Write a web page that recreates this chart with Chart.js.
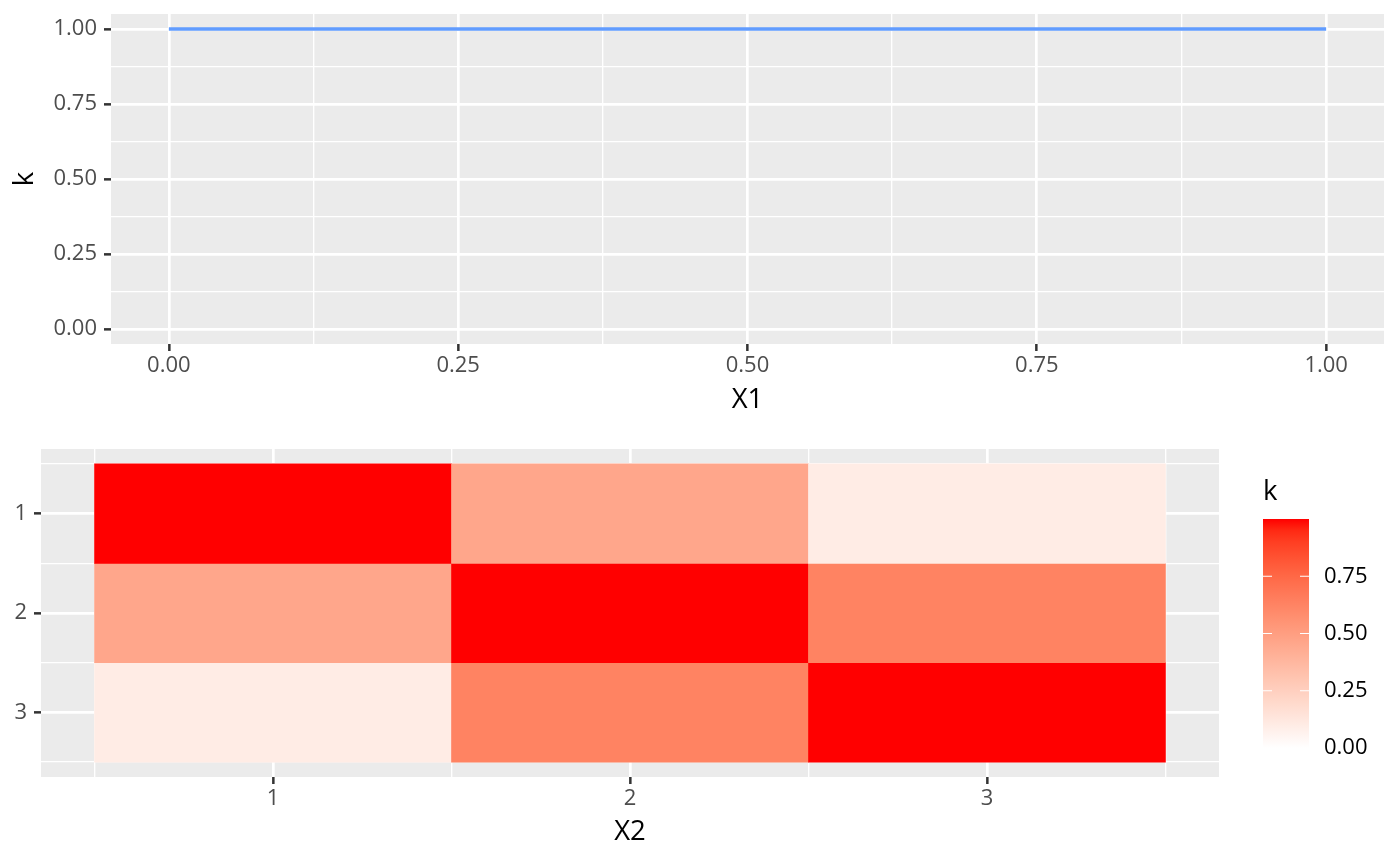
<!DOCTYPE html>
<html>
<head>
<meta charset="utf-8">
<script src="https://cdn.jsdelivr.net/npm/chart.js@4.4.1/dist/chart.umd.min.js"></script>
<style>
  html, body { margin: 0; padding: 0; background: #fff; }
  #wrap { position: relative; width: 1400px; height: 866px; overflow: hidden; }
  canvas { position: absolute; }
</style>
</head>
<body>
<div id="wrap">
  <canvas id="lineChart" width="1400" height="425" style="left:0;top:0"></canvas>
  <canvas id="heatChart" width="1240" height="441" style="left:0;top:425px"></canvas>
  <canvas id="keyChart" width="160" height="441" style="left:1240px;top:425px"></canvas>
</div>
<script>
// top panel: k along X1
const x1Values = [0, 0.25, 0.5, 0.75, 1];
const kLine = [1, 1, 1, 1, 1];
const x1Ticks = [0, 0.25, 0.5, 0.75, 1];
const x1Minor = [0.125, 0.375, 0.625, 0.875];
const kTicks = [0, 0.25, 0.5, 0.75, 1];
const kMinor = [0.125, 0.375, 0.625, 0.875];

// bottom panel: k between levels of X2
const x2Cats = [1, 2, 3];
const rowCats = [1, 2, 3];
const kRow1 = [1, 0.46, 0.1];
const kRow2 = [0.46, 1, 0.63];
const kRow3 = [0.1, 0.63, 1];
const tileMinor = [0.5, 1.5, 2.5, 3.5];
const keyTicks = [0, 0.25, 0.5, 0.75];

Chart.defaults.font.family = "'Open Sans', 'Noto Sans', sans-serif";
Chart.defaults.animation = false;

// white -> red ramp in CIELAB, like scale_fill_gradient
function toLin(c) { c /= 255; return c <= 0.04045 ? c / 12.92 : Math.pow((c + 0.055) / 1.055, 2.4); }
function fromLin(c) {
  const v = c <= 0.0031308 ? 12.92 * c : 1.055 * Math.pow(c, 1 / 2.4) - 0.055;
  return Math.round(Math.max(0, Math.min(1, v)) * 255);
}
function rgbToLab(rgb) {
  const [r, g, b] = rgb.map(toLin);
  const X = (0.4124 * r + 0.3576 * g + 0.1805 * b) / 0.95047;
  const Y = 0.2126 * r + 0.7152 * g + 0.0722 * b;
  const Z = (0.0193 * r + 0.1192 * g + 0.9505 * b) / 1.08883;
  const f = t => t > 0.008856 ? Math.cbrt(t) : 7.787 * t + 16 / 116;
  return [116 * f(Y) - 16, 500 * (f(X) - f(Y)), 200 * (f(Y) - f(Z))];
}
function labToRgb(lab) {
  const fy = (lab[0] + 16) / 116, fx = fy + lab[1] / 500, fz = fy - lab[2] / 200;
  const inv = t => t * t * t > 0.008856 ? t * t * t : (t - 16 / 116) / 7.787;
  const X = inv(fx) * 0.95047, Y = inv(fy), Z = inv(fz) * 1.08883;
  const r = 3.2406 * X - 1.5372 * Y - 0.4986 * Z;
  const g = -0.9689 * X + 1.8758 * Y + 0.0415 * Z;
  const b = 0.0557 * X - 0.2040 * Y + 1.0570 * Z;
  return 'rgb(' + fromLin(r) + ',' + fromLin(g) + ',' + fromLin(b) + ')';
}
const labLow = rgbToLab([255, 255, 255]);
const labHigh = rgbToLab([255, 0, 0]);
function fillFor(t) {
  return labToRgb(labLow.map((v, i) => v + (labHigh[i] - v) * t));
}

const panelBg = {
  id: 'panelBg',
  beforeDraw(chart) {
    const { ctx, chartArea: a } = chart;
    ctx.save();
    ctx.fillStyle = '#EBEBEB';
    ctx.fillRect(a.left, a.top, a.right - a.left, a.bottom - a.top);
    ctx.restore();
  }
};

const has = (arr, v) => arr.some(m => Math.abs(m - v) < 1e-9);
const setTicks = list => s => { s.ticks = list.slice().sort((a, b) => a - b).map(v => ({ value: v })); };
const tickFont = { size: 22 };
const titleFont = { size: 27.5 };

// grid with major + minor lines on one axis
function ggGrid(major) {
  return {
    color: '#FFFFFF',
    offset: false,
    lineWidth: c => (c.tick && has(major, c.tick.value)) ? 2.7 : 1.35,
    tickColor: c => (c.tick && has(major, c.tick.value)) ? '#333333' : 'rgba(0,0,0,0)',
    tickLength: 7,
    tickWidth: 2.5
  };
}

new Chart(document.getElementById('lineChart'), {
  type: 'line',
  data: {
    datasets: [{
      data: x1Values.map((x, i) => ({ x: x, y: kLine[i] })),
      borderColor: '#619CFF',
      borderWidth: 3.4,
      pointRadius: 0,
      fill: false
    }]
  },
  options: {
    responsive: false,
    layout: { padding: { left: 0, right: 16, top: 14, bottom: 0 } },
    plugins: { legend: { display: false }, tooltip: { enabled: false } },
    scales: {
      x: {
        type: 'linear', min: -0.05, max: 1.05,
        afterBuildTicks: setTicks(x1Ticks.concat(x1Minor)),
        afterFit: s => { s.height = 81; s.paddingLeft = 0; s.paddingRight = 0; },
        border: { display: false },
        grid: ggGrid(x1Ticks),
        ticks: { autoSkip: false, maxRotation: 0, color: '#4D4D4D', font: tickFont, padding: 2,
          callback: v => has(x1Ticks, v) ? v.toFixed(2) : '' },
        title: { display: true, text: 'X1', color: '#000', font: titleFont, padding: { top: 0, bottom: 8 } }
      },
      y: {
        type: 'linear', min: -0.05, max: 1.05,
        afterBuildTicks: setTicks(kTicks.concat(kMinor)),
        afterFit: s => { s.width = 111; s.paddingTop = 0; s.paddingBottom = 0; },
        border: { display: false },
        grid: ggGrid(kTicks),
        ticks: { autoSkip: false, color: '#4D4D4D', font: tickFont, padding: 7,
          callback: v => has(kTicks, v) ? v.toFixed(2) : '' },
        title: { display: true, text: 'k', color: '#000', font: titleFont, padding: { top: 9, bottom: 0 } }
      }
    }
  },
  plugins: [panelBg]
});

const kRows = [kRow1, kRow2, kRow3];

new Chart(document.getElementById('heatChart'), {
  type: 'bar',
  data: {
    datasets: kRows.map((vals, r) => ({
      xAxisID: 'x',
      yAxisID: 'y',
      data: x2Cats.map(c => ({ x: c, y: [rowCats[r] - 0.5, rowCats[r] + 0.5] })),
      backgroundColor: vals.map(fillFor),
      borderWidth: 0,
      grouped: false,
      barPercentage: 1,
      categoryPercentage: 1
    }))
  },
  options: {
    responsive: false,
    layout: { padding: { left: 0, right: 21, top: 24, bottom: 0 } },
    plugins: { legend: { display: false }, tooltip: { enabled: false } },
    scales: {
      x: {
        type: 'linear', min: 0.35, max: 3.65, offset: false,
        afterBuildTicks: setTicks(x2Cats),
        afterFit: s => { s.height = 89; s.paddingLeft = 0; s.paddingRight = 0; },
        border: { display: false },
        grid: ggGrid(x2Cats),
        ticks: { autoSkip: false, maxRotation: 0, color: '#4D4D4D', font: tickFont, padding: 2,
          callback: v => String(v) },
        title: { display: true, text: 'X2', color: '#000', font: titleFont, padding: { top: 0, bottom: 17 } }
      },
      y: {
        type: 'linear', min: 0.35, max: 3.65, reverse: true,
        afterBuildTicks: setTicks(rowCats.concat(tileMinor)),
        afterFit: s => { s.width = 41; s.paddingTop = 0; s.paddingBottom = 0; },
        border: { display: false },
        grid: ggGrid(rowCats),
        ticks: { autoSkip: false, color: '#4D4D4D', font: tickFont, padding: 7,
          callback: v => has(rowCats, v) ? String(v) : '' }
      },
      xMinor: {
        type: 'linear', position: 'top', min: 0.35, max: 3.65, offset: false,
        afterBuildTicks: setTicks(tileMinor),
        afterFit: s => { s.height = 0; },
        border: { display: false },
        grid: { color: '#FFFFFF', lineWidth: 1.35, drawTicks: false, offset: false },
        ticks: { display: false }
      }
    }
  },
  plugins: [panelBg]
});

// colour bar key
const keyMarks = {
  id: 'keyMarks',
  afterDatasetsDraw(chart) {
    const { ctx, chartArea: a, scales } = chart;
    ctx.save();
    ctx.strokeStyle = '#FFFFFF';
    ctx.lineWidth = 1.2;
    keyTicks.forEach(v => {
      if (v <= 0) return;
      const y = scales.y.getPixelForValue(v);
      ctx.beginPath();
      ctx.moveTo(a.left, y); ctx.lineTo(a.left + 9, y);
      ctx.moveTo(a.right - 9, y); ctx.lineTo(a.right, y);
      ctx.stroke();
    });
    ctx.fillStyle = '#000';
    ctx.font = "27.5px 'Open Sans', 'Noto Sans', sans-serif";
    ctx.textBaseline = 'middle';
    ctx.fillText('k', a.left, a.top - 27);
    ctx.restore();
  }
};

new Chart(document.getElementById('keyChart'), {
  type: 'bar',
  data: {
    labels: ['k'],
    datasets: [{
      data: [[0, 1]],
      backgroundColor: c => {
        const ch = c.chart;
        if (!ch.chartArea) return fillFor(1);
        const ys = ch.scales.y;
        const g = ch.ctx.createLinearGradient(0, ys.getPixelForValue(0), 0, ys.getPixelForValue(1));
        for (let i = 0; i <= 20; i++) g.addColorStop(i / 20, fillFor(i / 20));
        return g;
      },
      borderWidth: 0,
      inflateAmount: 0,
      barPercentage: 1,
      categoryPercentage: 1
    }]
  },
  options: {
    responsive: false,
    layout: { padding: { left: 23, right: 0, top: 94, bottom: 118 } },
    plugins: { legend: { display: false }, tooltip: { enabled: false } },
    scales: {
      x: { display: false },
      y: {
        position: 'right', min: 0, max: 1,
        afterBuildTicks: setTicks(keyTicks),
        afterFit: s => { s.width = 91; },
        border: { display: false },
        grid: { display: false, drawTicks: false },
        ticks: { color: '#000', font: tickFont, padding: 15, callback: v => v.toFixed(2) }
      }
    }
  },
  plugins: [keyMarks]
});
</script>
</body>
</html>
